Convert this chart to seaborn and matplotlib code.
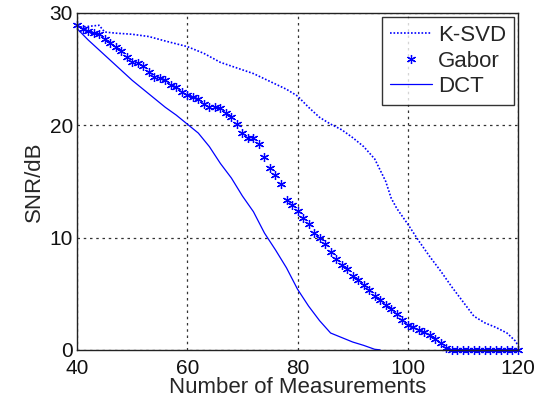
import matplotlib
matplotlib.use('Agg')
import pandas as pd
import matplotlib.pyplot as plt
import seaborn as sns

# data
ksvd_x = [40, 42, 44, 45, 47, 50, 53, 56, 60, 63, 66, 69, 72, 75, 78, 80, 82, 84, 86,
          88, 90, 92, 94, 95, 96, 97, 98, 100, 102, 104, 106, 108, 110, 112, 114, 116,
          118, 119.5, 120]
ksvd_y = [28.7, 28.8, 28.9, 28.3, 28.2, 28.1, 27.9, 27.5, 27.0, 26.4, 25.6, 25.1, 24.6,
          23.9, 23.2, 22.6, 21.6, 20.7, 20.1, 19.6, 18.9, 18.1, 17.0, 16.0, 15.0, 13.5,
          12.6, 11.2, 9.7, 8.3, 7.0, 5.6, 4.3, 3.0, 2.4, 2.0, 1.5, 0.8, 0.4]

gabor_x = list(range(40, 121))
gabor_y = [28.9, 28.6, 28.4, 28.2, 28.1, 27.7, 27.3, 27.0, 26.6, 26.1,
           25.6, 25.5, 25.3, 24.7, 24.3, 24.2, 24.0, 23.6, 23.4, 23.0,
           22.7, 22.5, 22.3, 21.9, 21.6, 21.6, 21.5, 21.1, 20.7, 20.1,
           19.3, 18.9, 18.9, 18.3, 17.2, 16.2, 15.6, 14.8, 13.3, 12.9,
           12.4, 11.7, 11.2, 10.4, 10.0, 9.4, 8.7, 8.1, 7.6, 7.2,
           6.6, 6.2, 5.8, 5.3, 4.8, 4.4, 4.0, 3.6, 3.2, 2.7,
           2.2, 2.0, 1.8, 1.6, 1.3, 1.0, 0.6, 0.2, 0, 0,
           0, 0, 0, 0, 0, 0, 0, 0, 0, 0, 0]

dct_x = [40, 42, 44, 46, 48, 50, 52, 54, 56, 58, 60, 62, 64, 66, 68, 70, 72, 74, 76,
         78, 80, 82, 84, 86, 88, 90, 92, 94, 95]
dct_y = [28.6, 27.6, 26.7, 25.8, 24.9, 24.0, 23.2, 22.4, 21.6, 20.9, 20.1, 19.3, 18.1,
         16.6, 15.3, 13.7, 12.3, 10.4, 8.9, 7.3, 5.4, 3.9, 2.6, 1.5, 1.1, 0.7, 0.4,
         0.05, 0]

x_ticks = [40, 60, 80, 100, 120]
y_ticks = [0, 10, 20, 30]

sns.set_style('white')
plt.rcParams['font.family'] = ['Liberation Sans', 'DejaVu Sans']

fig = plt.figure(figsize=(5.39, 4.04), dpi=100)
ax = fig.add_axes([0.143, 0.134, 0.818, 0.834])

blue = '#0000ff'
sns.lineplot(x=ksvd_x, y=ksvd_y, ax=ax, color=blue, linestyle=(0, (1, 1.1)),
             linewidth=1.2, label='K-SVD')
sns.lineplot(x=gabor_x, y=gabor_y, ax=ax, color=blue, linestyle='', marker=(6, 2, 0),
             markersize=6.5, markeredgewidth=0.9, markeredgecolor=blue, label='Gabor',
             clip_on=False)
sns.lineplot(x=dct_x, y=dct_y, ax=ax, color=blue, linestyle='-', linewidth=0.9,
             label='DCT')

ax.set_xlim(40, 120)
ax.set_ylim(0, 30)
ax.set_xticks(x_ticks)
ax.set_yticks(y_ticks)
ax.grid(True, color='#333333', linestyle=(0, (2, 3)), linewidth=0.9)
for s in ax.spines.values():
    s.set_color('#222222')
    s.set_linewidth(1.0)
ax.tick_params(direction='in', length=0, labelsize=15, colors='#111111')
ax.tick_params(axis='x', pad=6.5)
ax.tick_params(axis='y', pad=3)
ax.set_xlabel('Number of Measurements', fontsize=16, labelpad=-1)
ax.set_ylabel('SNR/dB', fontsize=16, labelpad=3)

leg = ax.legend(loc='upper right', fontsize=16, frameon=True, fancybox=False,
                edgecolor='black', borderaxespad=0.2, handlelength=1.9,
                borderpad=0.35, labelspacing=0.2, handletextpad=0.25)
leg.get_frame().set_linewidth(1.0)

fig.savefig('out.png', dpi=100)
